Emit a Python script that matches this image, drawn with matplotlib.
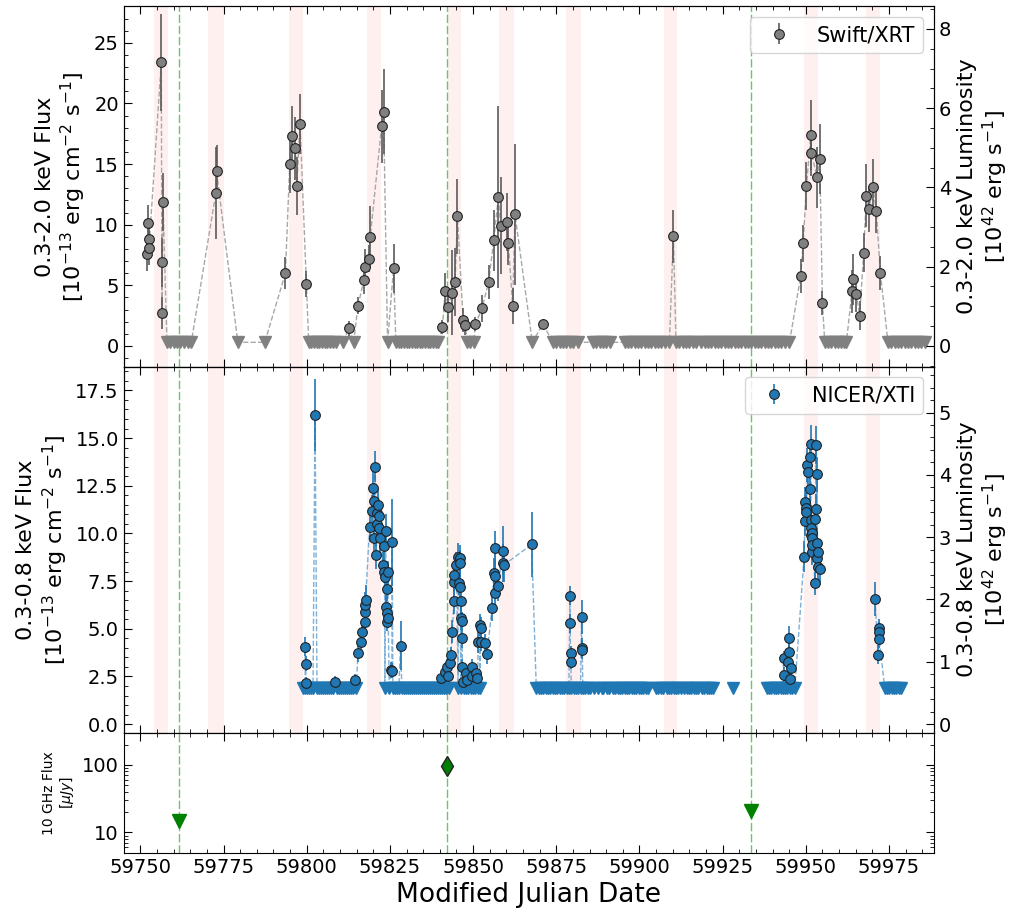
#!/usr/bin/env python3
"""
Multi-panel X-ray / radio light curve: Swift/XRT, NICER/XTI and 10 GHz radio.
"""

import numpy as np
import matplotlib
matplotlib.use('Agg')
import matplotlib.pyplot as plt
from matplotlib.ticker import AutoMinorLocator, MultipleLocator, FuncFormatter

# flux (1e-13 cgs) -> luminosity (1e42 erg/s)
LUM_FACTOR = 0.306

# ---- Swift/XRT detections ----
swift_t = [59752.0, 59752.3, 59752.5, 59752.6, 59756.3, 59756.5, 59756.6, 59756.8,
           59772.7, 59772.9, 59793.6, 59794.9, 59795.7, 59796.6, 59797.0, 59798.0,
           59799.9, 59812.7, 59815.4, 59817.2, 59817.5, 59818.7, 59819.1, 59822.5,
           59823.1, 59826.1, 59840.8, 59841.6, 59842.5, 59843.8, 59844.6, 59845.3,
           59847.0, 59847.7, 59850.7, 59852.7, 59854.7, 59856.2, 59857.6, 59858.3,
           59860.2, 59860.6, 59861.9, 59862.6, 59871.0, 59910.2, 59948.5, 59949.2,
           59950.2, 59951.5, 59951.7, 59953.4, 59954.2, 59955.0, 59963.9, 59964.2,
           59965.2, 59966.2, 59967.4, 59968.2, 59969.0, 59970.2, 59971.2, 59972.4]
swift_f = [7.6, 10.1, 8.8, 8.1, 23.4, 2.7, 6.9, 11.9,
           12.6, 14.4, 6.0, 15.0, 17.3, 16.3, 13.2, 18.3,
           5.1, 1.45, 3.3, 5.45, 6.5, 7.2, 9.0, 18.1,
           19.3, 6.4, 1.55, 4.55, 3.25, 4.4, 5.3, 10.7,
           2.15, 1.7, 1.8, 3.1, 5.3, 8.7, 12.3, 9.9,
           10.2, 8.5, 3.3, 10.85, 1.8, 9.05, 5.8, 8.45,
           13.2, 17.4, 15.9, 13.9, 15.4, 3.55, 4.5, 5.5,
           4.3, 2.5, 7.7, 12.4, 11.3, 13.1, 11.1, 6.05]
swift_err = [1.4, 1.5, 1.3, 1.4, 4.0, 1.3, 2.0, 2.4,
             3.8, 2.2, 1.3, 2.4, 2.5, 2.6, 2.4, 2.5,
             1.1, 0.6, 0.7, 1.2, 1.5, 1.1, 2.5, 3.0,
             3.5, 2.0, 0.6, 1.5, 1.3, 3.5, 2.8, 3.1,
             1.0, 0.8, 0.6, 1.1, 1.4, 2.5, 7.5, 4.0,
             2.4, 1.8, 1.5, 5.8, 0.4, 2.2, 1.4, 1.5,
             2.0, 2.9, 1.9, 2.5, 2.9, 1.0, 1.8, 2.1,
             1.5, 1.2, 1.6, 2.6, 1.9, 2.3, 1.8, 1.4]

# Swift/XRT upper limits (all drawn at the same level)
swift_ul_level = 0.3
swift_ul_t = [59758.0, 59759.0, 59760.0, 59761.0, 59762.0, 59763.0, 59764.2, 59765.3,
              59779.3, 59787.4,
              59800.6, 59801.4, 59802.2, 59803.0, 59803.8, 59804.6, 59805.4, 59806.2,
              59807.0, 59807.9, 59808.9, 59810.9, 59814.1,
              59824.3, 59826.8, 59827.6, 59828.4, 59829.2, 59830.0, 59830.8, 59831.6,
              59832.4, 59833.2, 59834.0, 59834.8, 59835.6, 59836.4, 59837.2, 59838.0,
              59838.8, 59839.6,
              59848.2, 59849.2, 59850.2, 59867.8,
              59874.0, 59875.0, 59876.0, 59877.0, 59878.0, 59879.0, 59880.0, 59881.5,
              59886.0, 59887.0, 59888.0, 59889.0, 59890.0, 59891.1,
              59895.6, 59896.6, 59897.6, 59898.6, 59899.6, 59900.6, 59901.6, 59902.6,
              59903.6, 59904.6, 59905.6, 59906.6, 59907.6, 59909.0,
              59911.0, 59912.0, 59913.0, 59914.0, 59915.0, 59916.0, 59917.0, 59918.5,
              59919.6, 59920.6, 59921.6, 59922.6, 59923.6, 59924.6, 59925.6, 59926.6,
              59927.6, 59928.6, 59929.6, 59930.6, 59931.6, 59932.6, 59933.6, 59934.6,
              59935.6, 59936.6, 59937.6, 59938.6, 59939.6, 59940.6, 59941.6, 59942.6,
              59943.6, 59945.1,
              59955.7, 59956.7, 59957.7, 59958.7, 59959.7, 59960.7, 59961.5, 59962.2,
              59974.7, 59975.7, 59976.7, 59977.7, 59978.7, 59979.7, 59980.7, 59981.7,
              59982.7, 59983.7, 59984.7, 59985.7]

# ---- NICER/XTI detections ----
nicer_t = [59799.6, 59799.7, 59799.8, 59802.5, 59808.4, 59814.4, 59815.4, 59816.4,
           59816.6, 59817.4, 59817.5, 59817.6, 59817.7, 59818.9, 59819.5, 59819.9,
           59820.2, 59820.3, 59820.6, 59820.9, 59821.1, 59821.2, 59821.4, 59821.7,
           59821.8, 59821.9, 59822.9, 59823.2, 59823.3, 59823.4, 59823.7, 59823.9,
           59824.0, 59824.1, 59824.2, 59824.4, 59824.5, 59825.4, 59825.6, 59825.7,
           59828.2,
           59840.5, 59841.5, 59842.2, 59842.5, 59843.1, 59843.3, 59843.8, 59844.2,
           59844.3, 59844.4, 59845.0, 59845.5, 59845.8, 59846.0, 59846.1, 59846.2,
           59846.4, 59846.5, 59846.6, 59846.7, 59846.8, 59847.0, 59848.0, 59848.2,
           59849.7, 59849.8, 59851.0, 59851.2, 59851.5, 59852.0, 59852.3, 59852.4,
           59853.5, 59854.2, 59855.7, 59856.2, 59856.5, 59856.6, 59856.7, 59857.5,
           59859.0, 59859.1, 59859.2, 59867.6,
           59879.1, 59879.2, 59879.3, 59879.4, 59882.6, 59882.7, 59882.8,
           59943.3, 59943.4, 59944.7, 59945.0, 59945.1, 59945.2, 59945.7,
           59949.5, 59949.8, 59949.9, 59950.0, 59950.2, 59950.5, 59950.6, 59951.2,
           59951.4, 59951.5, 59951.55, 59951.6, 59951.65, 59951.8, 59951.9, 59951.95,
           59952.0, 59952.8, 59952.9, 59953.1, 59953.2, 59953.25, 59953.4, 59953.5,
           59953.55, 59953.6, 59954.2,
           59970.8, 59971.8, 59972.0, 59972.05, 59972.1]
nicer_f = [4.06, 3.16, 2.15, 16.2, 2.23, 2.33, 3.75, 4.29,
           4.85, 5.34, 5.9, 6.25, 6.5, 10.35, 11.2, 12.4,
           9.74, 11.7, 13.5, 8.86, 11.07, 10.5, 11.5, 10.9,
           10.3, 9.74, 8.34, 9.33, 7.99, 7.73, 10.14, 6.16,
           5.37, 5.81, 7.08, 7.96, 5.55, 2.84, 2.8, 9.53,
           4.12,
           2.4, 2.75, 3.0, 2.5, 3.19, 3.63, 4.85, 6.47,
           7.47, 7.82, 8.34, 8.78, 7.38, 8.69, 8.43, 7.2,
           6.47, 5.55, 5.4, 4.5, 3.0, 2.23, 2.67, 2.3,
           3.0, 2.5, 2.67, 2.4, 4.33, 5.2, 5.03, 4.33,
           4.24, 3.66, 6.1, 7.9, 6.86, 9.21, 7.79, 7.26,
           9.1, 8.43, 8.34, 9.42,
           6.73, 5.29, 3.72, 3.28, 5.6, 4.01, 3.89,
           3.45, 2.58, 3.28, 4.54, 3.77, 2.37, 2.96,
           8.78, 11.65, 10.64, 11.31, 11.13, 13.58, 13.23, 14.0,
           12.35, 14.71, 10.7, 9.91, 10.26, 10.0, 9.74, 9.04,
           9.39, 7.38, 10.75, 14.62, 11.27, 8.69, 13.09, 9.48,
           8.25, 9.04, 8.13,
           6.56, 3.63, 5.03, 4.85, 4.47]
nicer_err = [0.5, 0.4, 0.3, 1.9, 0.3, 0.3, 0.5, 0.5,
             0.6, 0.6, 0.7, 0.7, 0.8, 0.8, 0.8, 0.9,
             0.7, 0.8, 0.8, 0.7, 0.8, 0.7, 0.8, 0.8,
             0.7, 0.7, 0.7, 0.7, 0.6, 0.6, 0.9, 0.6,
             0.5, 0.6, 0.6, 0.6, 0.5, 0.4, 0.4, 2.3,
             1.3,
             0.3, 0.4, 0.4, 0.3, 0.4, 0.4, 0.6, 0.7,
             0.7, 0.7, 0.7, 0.7, 0.6, 0.7, 0.7, 0.6,
             0.6, 0.6, 0.5, 0.5, 0.4, 0.3, 0.4, 0.3,
             0.4, 0.4, 0.4, 0.4, 0.6, 0.6, 0.6, 0.5,
             0.5, 0.5, 0.7, 0.8, 0.8, 0.9, 0.8, 0.8,
             1.3, 1.0, 0.9, 1.7,
             0.5, 0.5, 0.4, 0.4, 0.9, 0.5, 0.5,
             0.4, 0.4, 0.4, 0.6, 0.5, 0.4, 0.4,
             0.8, 0.8, 0.8, 0.8, 0.8, 0.9, 0.9, 0.9,
             0.9, 1.0, 0.8, 0.8, 0.8, 0.8, 0.8, 0.7,
             0.8, 0.6, 0.8, 1.0, 0.8, 0.7, 0.9, 0.8,
             0.7, 0.7, 0.7,
             0.9, 0.5, 0.5, 0.5, 0.5]

# NICER/XTI upper limits (all drawn at the same level)
nicer_ul_level = 1.9
nicer_ul_t = [59798.9, 59799.5, 59800.1, 59800.7, 59801.3, 59801.9, 59803.1, 59803.7,
              59804.3, 59804.9, 59805.5, 59806.1, 59806.7, 59807.3, 59807.9, 59809.0,
              59809.6, 59810.2, 59810.8, 59811.4, 59812.0, 59812.6, 59813.2, 59813.8,
              59814.9,
              59823.5, 59824.8, 59825.9, 59826.5, 59827.1, 59827.7, 59828.6, 59829.2,
              59829.8, 59830.4, 59831.0, 59831.6, 59832.2, 59832.8, 59833.4, 59834.0,
              59834.6, 59835.2, 59835.8, 59836.4, 59837.0, 59837.6, 59838.2, 59838.8,
              59839.4, 59840.0, 59840.8, 59841.4, 59842.0, 59842.8,
              59845.5, 59846.3, 59847.2, 59847.8, 59848.6, 59849.3, 59850.0, 59850.6,
              59851.4, 59852.0,
              59869.0, 59869.7, 59870.4, 59871.1, 59871.8, 59872.5, 59873.2, 59873.9,
              59874.6, 59875.3, 59876.0, 59876.7, 59877.4, 59878.1, 59878.8, 59879.5,
              59880.2, 59880.9, 59881.6, 59882.3, 59883.0, 59883.7, 59884.4, 59885.1,
              59886.2, 59887.4, 59888.6, 59889.2, 59890.4, 59891.0, 59892.2, 59892.8,
              59893.5, 59894.2, 59894.9, 59895.6, 59896.3, 59897.0, 59897.7, 59898.4,
              59899.1, 59899.8, 59900.5, 59901.2, 59901.9, 59902.5,
              59905.0, 59905.7, 59906.4, 59907.1, 59908.2, 59908.9, 59909.6, 59910.3,
              59911.0, 59911.7, 59912.4, 59913.5, 59914.2, 59914.9, 59915.6, 59916.3,
              59917.0, 59917.7, 59918.8, 59919.5, 59920.2, 59920.9, 59921.6, 59922.0,
              59928.1,
              59938.2, 59938.9, 59939.6, 59940.3, 59941.0, 59941.7, 59942.4, 59943.1,
              59943.8, 59944.5, 59945.3, 59946.0, 59946.7,
              59973.7, 59974.4, 59975.1, 59975.8, 59976.5, 59977.2, 59977.9, 59978.7]
# the NICER dashed line is interrupted at these dates
nicer_line_breaks = [59925.0, 59933.0, 59962.0]

# ---- 10 GHz radio ----
radio_ul_t = [59761.6, 59933.6]
radio_ul_f = [15.0, 21.0]
radio_det_t = [59842.2]
radio_det_f = [95.0]

# shaded windows (start, end) in MJD
bands = [(59754.0, 59758.2), (59770.4, 59775.0), (59794.7, 59798.9),
         (59818.2, 59822.4), (59842.4, 59846.5), (59857.7, 59862.3),
         (59877.8, 59882.3), (59907.4, 59911.4), (59949.5, 59953.8),
         (59968.0, 59972.4)]

XLIM = (59745.0, 59988.5)


def style_axis(ax, right=True):
    ax.tick_params(which='both', direction='in', top=True, right=right,
                   labelsize=14)
    ax.tick_params(which='major', length=6)
    ax.tick_params(which='minor', length=3)


def add_lum_axis(ax, label):
    ax2 = ax.twinx()
    lo, hi = ax.get_ylim()
    ax2.set_ylim(lo * LUM_FACTOR, hi * LUM_FACTOR)
    ax2.yaxis.set_minor_locator(AutoMinorLocator())
    ax2.tick_params(which='both', direction='in', labelsize=14)
    ax2.tick_params(which='major', length=6)
    ax2.tick_params(which='minor', length=3)
    ax2.set_ylabel(label, fontsize=16)
    return ax2


def xray_panel(ax, t, f, err, ul_t, ul_level, color, ecolor, lcolor, label,
               breaks=(), ul_ms=8):
    ul_f = [ul_level] * len(ul_t)
    all_t = np.concatenate([t, ul_t])
    all_f = np.concatenate([f, ul_f])
    order = np.argsort(all_t)
    all_t, all_f = all_t[order], all_f[order]
    # interrupt the guide line at the requested dates
    edges = [all_t[0] - 1] + list(breaks) + [all_t[-1] + 1]
    for lo, hi in zip(edges[:-1], edges[1:]):
        sel = (all_t > lo) & (all_t < hi)
        ax.plot(all_t[sel], all_f[sel], ls='--', color=lcolor, lw=1.0, zorder=2)
    ax.plot(ul_t, ul_f, 'v', color=color, ms=ul_ms, ls='none', zorder=3)
    ax.errorbar(t, f, yerr=err, fmt='o', color=color, ecolor=ecolor,
                mec='#222222', mew=0.8, ms=7, elinewidth=1.2, capsize=0,
                label=label, zorder=4)


fig = plt.figure(figsize=(10.14, 9.14), dpi=100)
gs = fig.add_gridspec(3, 1, height_ratios=[3, 3.05, 1], hspace=0,
                      left=0.122, right=0.921, top=0.993, bottom=0.067)
ax1 = fig.add_subplot(gs[0])
ax2 = fig.add_subplot(gs[1], sharex=ax1)
ax3 = fig.add_subplot(gs[2], sharex=ax1)

for ax in (ax1, ax2):
    for b0, b1 in bands:
        ax.axvspan(b0, b1, color='red', alpha=0.06, lw=0, zorder=0)
for ax in (ax1, ax2, ax3):
    for tr in radio_ul_t + radio_det_t:
        ax.axvline(tr, color='#6cc46c', ls=(0, (6, 2)), lw=1.0, zorder=1)

# Swift
xray_panel(ax1, swift_t, swift_f, swift_err, swift_ul_t, swift_ul_level,
           '#808080', '#5a5a5a', '#a8a8a8', 'Swift/XRT')
ax1.set_ylim(-1.7, 28.0)
ax1.yaxis.set_minor_locator(AutoMinorLocator())
style_axis(ax1, right=False)
ax1.set_ylabel('0.3-2.0 keV Flux\n[$10^{-13}$ erg cm$^{-2}$ s$^{-1}$]', fontsize=16)
ax1.legend(loc='upper right', fontsize=15)
plt.setp(ax1.get_xticklabels(), visible=False)
add_lum_axis(ax1, '0.3-2.0 keV Luminosity\n[$10^{42}$ erg s$^{-1}$]')

# NICER
xray_panel(ax2, nicer_t, nicer_f, nicer_err, nicer_ul_t, nicer_ul_level,
           '#1f77b4', '#1f77b4', '#7fb0d8', 'NICER/XTI', nicer_line_breaks,
           ul_ms=9)
ax2.set_ylim(-0.45, 18.75)
ax2.yaxis.set_minor_locator(AutoMinorLocator())
style_axis(ax2, right=False)
ax2.set_ylabel('0.3-0.8 keV Flux\n[$10^{-13}$ erg cm$^{-2}$ s$^{-1}$]', fontsize=16)
ax2.legend(loc='upper right', fontsize=15)
plt.setp(ax2.get_xticklabels(), visible=False)
add_lum_axis(ax2, '0.3-0.8 keV Luminosity\n[$10^{42}$ erg s$^{-1}$]')

# Radio
ax3.plot(radio_ul_t, radio_ul_f, 'v', color='green', ms=10, ls='none', zorder=3)
ax3.plot(radio_det_t, radio_det_f, 'd', color='green', mec='#222222', ms=10,
         ls='none', zorder=3)
ax3.set_yscale('log')
ax3.set_ylim(5, 300)
ax3.yaxis.set_major_formatter(FuncFormatter(lambda v, p: f'{v:g}'))
style_axis(ax3, right=True)
ax3.set_ylabel('10 GHz Flux\n[$\\mu Jy$]', fontsize=10)
ax3.set_xlabel('Modified Julian Date', fontsize=19)

ax1.set_xlim(*XLIM)
ax1.xaxis.set_major_locator(MultipleLocator(25))
ax1.xaxis.set_minor_locator(MultipleLocator(5))

fig.savefig('out.png', dpi=100)
